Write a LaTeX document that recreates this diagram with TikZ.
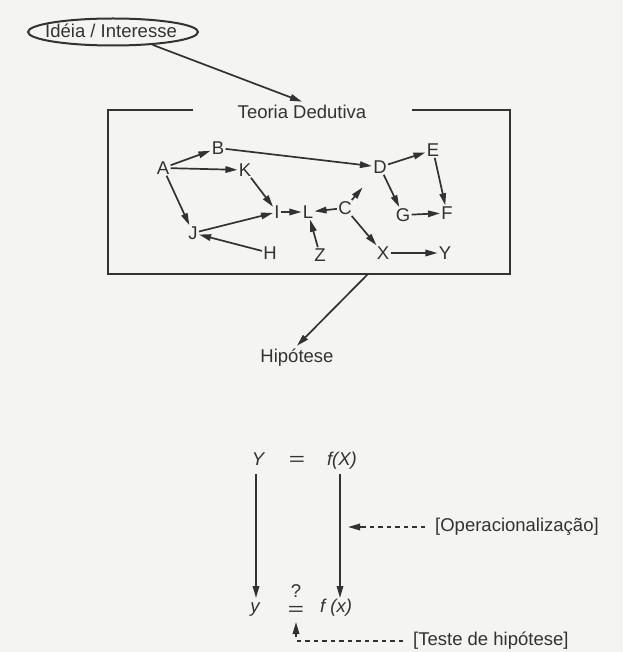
\documentclass[tikz,border=0pt]{standalone}
\usepackage{fontspec}
\usepackage{graphicx}
\setmainfont{Liberation Sans}
\usetikzlibrary{arrows.meta,calc,shapes.geometric}
\definecolor{ink}{RGB}{50,50,50}
\definecolor{paper}{RGB}{244,244,242}
\begin{document}
\begin{tikzpicture}[x=1pt,y=-1pt,
  every node/.style={font=\fontsize{18.5}{22}\selectfont, text=ink},
  lt/.style={inner sep=1.2pt},
  arr/.style={draw=ink, line width=1.7pt, -{Triangle[length=12pt,width=6.5pt]}},
  frame/.style={draw=ink, line width=2.2pt},
  dsh/.style={draw=ink, line width=1.6pt, dash pattern=on 4.5pt off 4pt},
  eq/.style={font=\fontsize{18.5}{22}\selectfont\itshape, anchor=base, inner sep=0pt},
  eqs/.style={font=\fontsize{18.5}{22}\selectfont, anchor=base, inner sep=0pt}]
\fill[paper] (0,0) rectangle (623,652);
\useasboundingbox (0,0) rectangle (623,652);

% idea ellipse
\node[draw=ink, line width=2pt, ellipse, minimum width=170pt, minimum height=27pt, inner sep=0pt] (idea) at (113,32) {};
\node (ideatxt) at (111,31) {Idéia / Interesse};
\node (teoria) at (302,112) {Teoria Dedutiva};
\draw[arr] (idea.-18) -- (teoria.north);

% frame
\coordinate (f1) at (193,110);
\coordinate (f2) at (108,110);
\coordinate (f3) at (108,274);
\coordinate (f4) at (510,274);
\coordinate (f5) at (510,110);
\coordinate (f6) at (412,110);
\draw[frame] (f1) -- (f2) -- (f3) -- (f4) -- (f5) -- (f6);

% graph nodes
\node[lt] (A) at (163,168) {A};
\node[lt] (B) at (218,148) {B};
\node[lt] (K) at (245,170) {K};
\node[lt] (D) at (380,167) {D};
\node[lt] (E) at (433,150) {E};
\node[lt] (G) at (403,215) {G};
\node[lt] (F) at (447,213) {F};
\node[lt] (I) at (277,212) {I};
\node[lt] (L) at (308,212) {L};
\node[lt] (C) at (345,208) {C};
\node[lt] (J) at (193,233) {J};
\node[lt] (H) at (270,253) {H};
\node[lt] (Z) at (320,255) {Z};
\node[lt] (X) at (383,253) {X};
\node[lt] (Y) at (445,253) {Y};

\draw[arr] (A) -- (B);
\draw[arr] (B) -- (D);
\draw[arr] (A) -- (K);
\draw[arr] (A) -- (J);
\draw[arr] (K) -- (I);
\draw[arr] (J) -- (I);
\draw[arr] (H) -- (J);
\draw[arr] (I) -- (L);
\draw[arr] (C) -- (L);
\draw[arr] (Z) -- (L);
\draw[arr] (C) -- ($(C)!0.5!(D)$);
\draw[arr] (C) -- (X);
\draw[arr] (X) -- (Y);
\draw[arr] (D) -- (E);
\draw[arr] (D) -- (G);
\draw[arr] (E) -- (F);
\draw[arr] (G) -- (F);

% hipotese
\coordinate (fb) at (368,274);
\node (hip) at (297,358) {Hipótese};
\draw[arr] (fb) -- (hip.north);

% equations
\node[eq] (Yb) at (258,465) {Y};
\node[eqs] (eq1) at (297,465) {\scalebox{1.5}[1]{=}};
\node[eq] (fX) at (342,465) {f(X)};
\node[eq] (ys) at (255,612) {y};
\node[eqs] (q) at (296,597) {?};
\node[eqs] (eq2) at (296,615) {\scalebox{1.5}[1]{=}};
\node[eq] (fx) at (336,612) {f (x)};

\coordinate (l1) at (256,474);
\coordinate (l2) at (256,598);
\coordinate (r1) at (340,474);
\coordinate (r2) at (340,598);
\draw[arr] (l1) -- (l2);
\draw[arr] (r1) -- (r2);

% operacionalizacao
\node[anchor=west, inner sep=0pt] (op) at (435,527) {[Operacionalização]};
\coordinate (o1) at (425,527);
\coordinate (o2) at (348,527);
\draw[dsh] (o1) -- ($(o2)+(11,0)$);
\draw[arr] ($(o2)+(13,0)$) -- (o2);

% teste
\node[anchor=west, inner sep=0pt] (teste) at (413,641) {[Teste de hipótese]};
\coordinate (t1) at (403,641);
\coordinate (t2) at (296,641);
\coordinate (t3) at (296,622);
\draw[dsh] (t1) -- (t2);
\draw[arr] ($(t2)+(0,-4)$) -- (t3);
\end{tikzpicture}
\end{document}
